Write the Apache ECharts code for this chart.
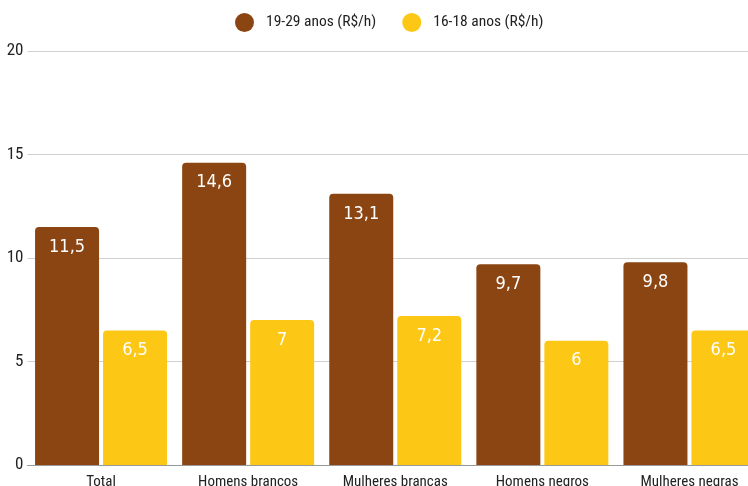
<!DOCTYPE html>
<html>
<head>
<meta charset="utf-8">
<script src="https://cdn.jsdelivr.net/npm/echarts@6/dist/echarts.min.js"></script>
<style>
html,body{margin:0;padding:0;background:#fff;overflow:hidden;}
#c{width:763px;height:486px;}
</style>
</head>
<body>
<div id="c"></div>
<script>
const categories = ['Total', 'Homens brancos', 'Mulheres brancas', 'Homens negros', 'Mulheres negras'];
const seriesNames = ['19-29 anos (R$/h)', '16-18 anos (R$/h)'];
const adults = [11.5, 14.6, 13.1, 9.7, 9.8];
const teens = [6.5, 7, 7.2, 6, 6.5];
const yTicks = [0, 5, 10, 15, 20];

const font = '"Roboto Condensed", "Liberation Sans Narrow", "DejaVu Sans Condensed", "Roboto", sans-serif';
const fmt = p => String(p.value).replace('.', ',');

const chart = echarts.init(document.getElementById('c'), null, {renderer: 'canvas'});
chart.setOption({
  animation: false,
  legend: {
    top: 8,
    left: 230,
    itemGap: 26,
    itemWidth: 19,
    itemHeight: 19,
    icon: 'circle',
    textStyle: {fontFamily: font, fontSize: 15.5, color: '#222', padding: [0, 0, 0, 7]},
    data: seriesNames
  },
  grid: {left: 27.5, top: 51, right: 0, bottom: 21, containLabel: false, outerBoundsMode: 'none'},
  xAxis: {
    type: 'category',
    data: categories,
    axisTick: {show: false},
    axisLine: {lineStyle: {color: '#999'}},
    axisLabel: {fontFamily: font, fontSize: 15, color: '#222', margin: 10, interval: 0}
  },
  yAxis: {
    type: 'value',
    min: yTicks[0],
    max: yTicks[yTicks.length - 1],
    interval: 5,
    axisLabel: {fontFamily: font, fontSize: 17, color: '#222', margin: 4},
    splitLine: {lineStyle: {color: '#d0d0d0'}},
    axisLine: {show: false},
    axisTick: {show: false}
  },
  series: [
    {
      name: seriesNames[0], type: 'bar', data: adults,
      barWidth: 64, barGap: '6.25%',
      itemStyle: {color: '#8B4513', borderRadius: [4, 4, 0, 0]},
      label: {show: true, position: 'insideTop', distance: 11, formatter: fmt,
        color: '#fff', fontFamily: '"Comic Sans MS", "DejaVu Sans Condensed", sans-serif', fontSize: 18}
    },
    {
      name: seriesNames[1], type: 'bar', data: teens,
      barWidth: 64,
      itemStyle: {color: '#FDC715', borderRadius: [4, 4, 0, 0]},
      label: {show: true, position: 'insideTop', distance: 11, formatter: fmt,
        color: '#fff', fontFamily: '"Comic Sans MS", "DejaVu Sans Condensed", sans-serif', fontSize: 18}
    }
  ]
});
</script>
</body>
</html>
